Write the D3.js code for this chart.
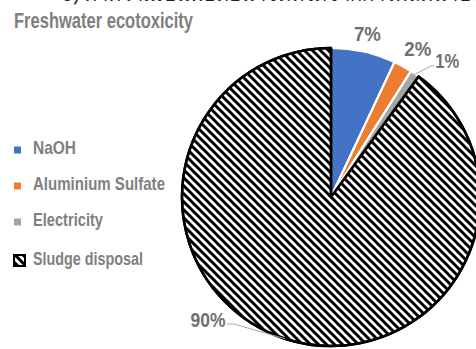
<!DOCTYPE html>
<html><head><meta charset="utf-8">
<script src="https://cdn.jsdelivr.net/npm/d3@7"></script>
<style>body{margin:0;background:#fff;overflow:hidden}svg{display:block}</style>
</head><body>
<script>
const categories = ["NaOH", "Aluminium Sulfate", "Electricity", "Sludge disposal"];
const values = [7, 2, 1, 90];
const valueLabels = ["7%", "2%", "1%", "90%"];
const colors = ["#4472C4", "#ED7D31", "#A5A5A5", "url(#hatch)"];
const titleText = "Freshwater ecotoxicity";
const headerText = "๖) ค่าความเป็นพิษต่อน้ำจืดที่ได้จากการผลิตน้ำประปา (ตะกอนจากการบำบัดน้ำเสีย)";

const W = 476, H = 349;
const cx = 331, cy = 197, R = 149;

const svg = d3.select("body").append("svg").attr("width", W).attr("height", H);
const defs = svg.append("defs");
const pat = defs.append("pattern").attr("id", "hatch").attr("patternUnits", "userSpaceOnUse")
  .attr("width", 8).attr("height", 8);
pat.append("rect").attr("width", 8).attr("height", 8).attr("fill", "#fff");
pat.append("path").attr("d", "M-2,-2L10,10M-2,6L2,10M6,-2L10,2")
  .attr("stroke", "#000").attr("stroke-width", 3);

// clipped header line (only the lower part is visible, as in the source)
svg.append("text").attr("x", 60).attr("y", 1).attr("font-family", "Noto Sans, sans-serif")
  .attr("font-size", 20).attr("fill", "#222").text(headerText);

svg.append("text").attr("x", 14).attr("y", 28).attr("font-family", "Liberation Sans, Arial, sans-serif")
  .attr("font-weight", "bold").attr("font-size", 22).attr("fill", "#808080")
  .attr("textLength", 179).attr("lengthAdjust", "spacingAndGlyphs").text(titleText);

const pie = d3.pie().sort(null).value(d => d)(values);
const arc = d3.arc().innerRadius(0).outerRadius(R);
const g = svg.append("g").attr("transform", `translate(${cx},${cy})`);

g.selectAll("path.s").data(pie).join("path").attr("class", "s")
  .attr("d", arc)
  .attr("fill", (d, i) => colors[i])
  .attr("stroke", (d, i) => i === 3 ? "#000" : "#fff")
  .attr("stroke-width", (d, i) => i === 3 ? 2.5 : 2)
  .attr("stroke-linejoin", "round");
g.selectAll("line.sep").data(pie.slice(0, 3)).join("line").attr("class", "sep")
  .attr("x1", 0).attr("y1", 0)
  .attr("x2", d => R * Math.sin(d.endAngle)).attr("y2", d => -R * Math.cos(d.endAngle))
  .attr("stroke", "#fff").attr("stroke-width", 2);
g.append("path").datum(pie[3]).attr("d", arc).attr("fill", "none")
  .attr("stroke", "#000").attr("stroke-width", 2.5).attr("stroke-linejoin", "round");

// label layout
const labelRadius = [167, 172, 179, 174];
const labelAngleShift = [0, 1.5, 6.3, 27];
const labelPos = pie.map((d, i) => {
  const a = (d.startAngle + d.endAngle) / 2 + labelAngleShift[i] * Math.PI / 180;
  return [labelRadius[i] * Math.sin(a), -labelRadius[i] * Math.cos(a)];
});

const mid = d => (d.startAngle + d.endAngle) / 2;
const lp2 = labelPos[2], lp3 = labelPos[3];
const a2 = mid(pie[2]), a3 = mid(pie[3]);
const leaders = [
  [[(R - 1) * Math.sin(a2), -(R - 1) * Math.cos(a2)], [lp2[0] - 16, lp2[1] + 5], [lp2[0] - 13, lp2[1] + 5]],
  [[R * Math.sin(a3), -R * Math.cos(a3)], [lp3[0] + 26, lp3[1] + 4], [lp3[0] + 19, lp3[1] + 4]]
];
g.selectAll("path.lead").data(leaders).join("path").attr("class", "lead")
  .attr("d", d => d3.line()(d)).attr("fill", "none").attr("stroke", "#A6A6A6").attr("stroke-width", 1);

g.selectAll("text.lbl").data(pie).join("text").attr("class", "lbl")
  .attr("x", (d, i) => labelPos[i][0]).attr("y", (d, i) => labelPos[i][1] + 7)
  .attr("text-anchor", "middle").attr("font-family", "Liberation Sans, Arial, sans-serif")
  .attr("font-weight", "bold").attr("font-size", 20).attr("fill", "#707070")
  .attr("textLength", (d, i) => [27, 27, 24, 35][i]).attr("lengthAdjust", "spacingAndGlyphs")
  .text((d, i) => valueLabels[i]);

// legend
const legY = [150, 186, 222, 261];
const legW = [43, 132, 70, 110];
const leg = svg.append("g");
categories.forEach((c, i) => {
  if (i < 3) {
    leg.append("rect").attr("x", 14).attr("y", legY[i] - 3.5).attr("width", 7).attr("height", 7).attr("fill", colors[i]);
  } else {
    leg.append("rect").attr("x", 14).attr("y", legY[i] - 6).attr("width", 11).attr("height", 11)
      .attr("fill", colors[i]).attr("stroke", "#000").attr("stroke-width", 2);
  }
  leg.append("text").attr("x", 33).attr("y", legY[i] + 4).attr("font-family", "Liberation Sans, Arial, sans-serif")
    .attr("font-weight", "bold").attr("font-size", 19).attr("fill", "#808080")
    .attr("textLength", legW[i]).attr("lengthAdjust", "spacingAndGlyphs").text(c);
});
</script>
</body></html>
